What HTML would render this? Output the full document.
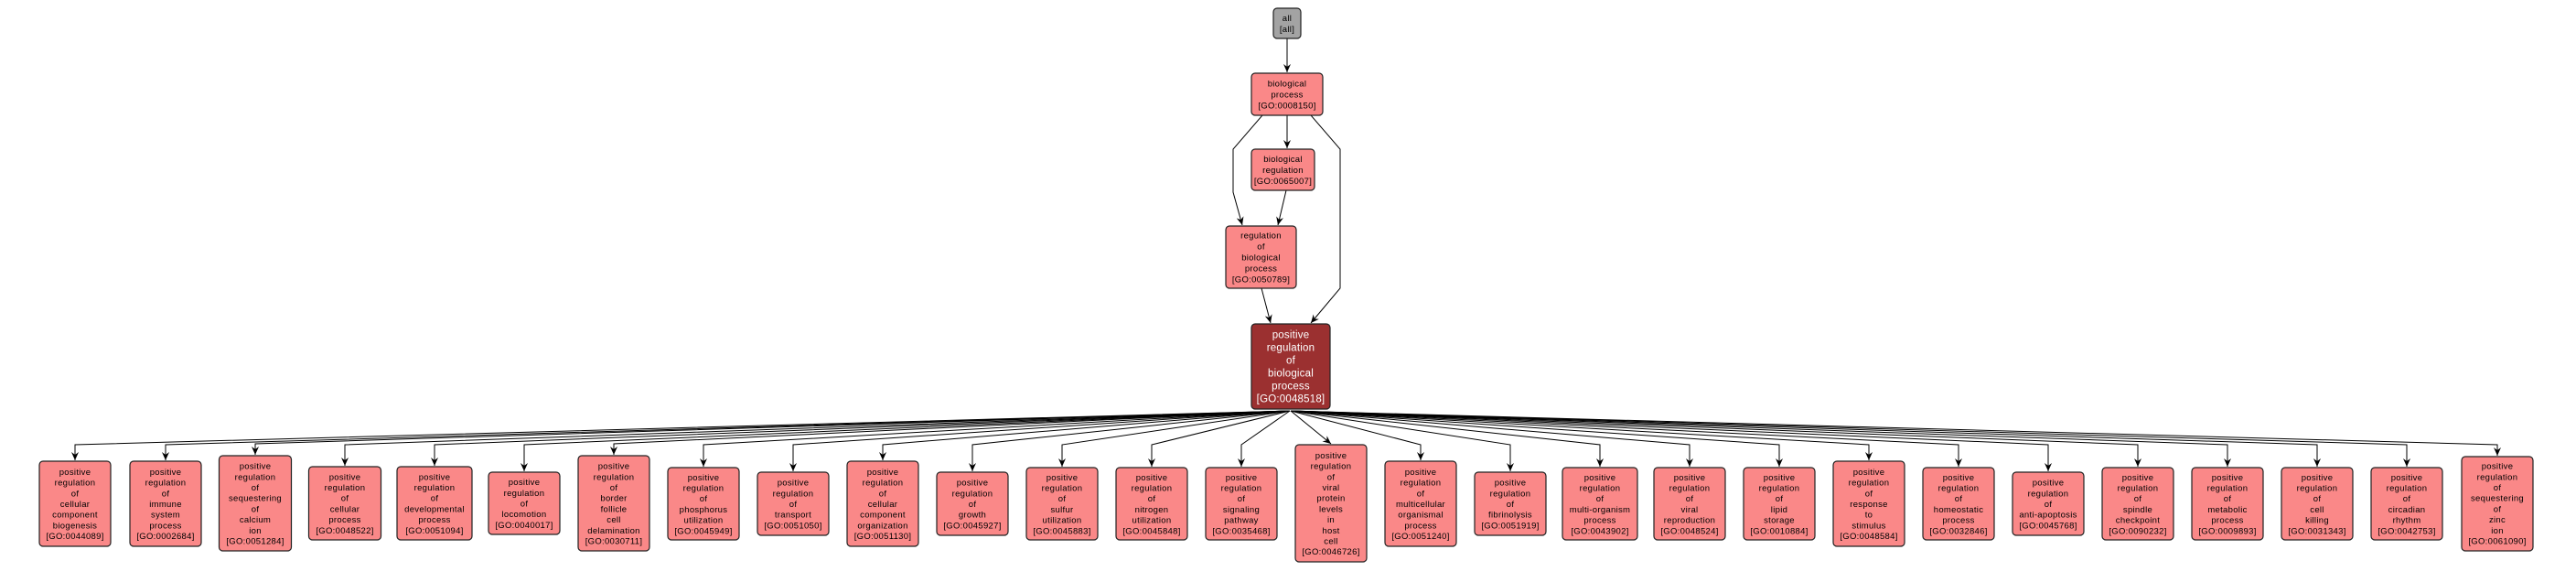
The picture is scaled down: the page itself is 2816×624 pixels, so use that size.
<!DOCTYPE html>
<html><head><meta charset="utf-8"><style>
html,body{margin:0;padding:0;background:#fff;}
svg{display:block;}
text{font-family:"Liberation Sans",sans-serif;font-size:9.5px;letter-spacing:0.3px;text-anchor:middle;fill:#000;}
.n rect{fill:#fa8888;stroke:#222;stroke-width:1.2;}
.d text{fill:#fff;font-size:11.5px;letter-spacing:0.2px;}
path{fill:none;stroke:#000;stroke-width:1;}
</style></head><body>
<svg width="2816" height="624" viewBox="0 0 2816 624" xmlns="http://www.w3.org/2000/svg">
<defs><marker id="a" markerWidth="10" markerHeight="10" refX="9" refY="5" orient="auto" markerUnits="userSpaceOnUse"><polygon points="0,1 9,5 0,9 3,5" fill="#000"/></marker></defs>

<!-- top edges -->
<path d="M1407,42 L1407,79" marker-end="url(#a)"/>
<path d="M1407,126 L1407,162" marker-end="url(#a)"/>
<path d="M1380,126 L1348,163 L1348,210 L1358,246" marker-end="url(#a)"/>
<path d="M1406,208 L1397,246" marker-end="url(#a)"/>
<path d="M1433,126 L1465,163 L1465,315 L1433,353" marker-end="url(#a)"/>
<path d="M1379,315 L1389,353" marker-end="url(#a)"/>

<!-- fan edges -->
<path d="M1410,449 L82,486 L82,503" marker-end="url(#a)"/>
<path d="M1410,449 L181,486 L181,503" marker-end="url(#a)"/>
<path d="M1410,449 L279,485 L279,497" marker-end="url(#a)"/>
<path d="M1410,449 L377,486 L377,509" marker-end="url(#a)"/>
<path d="M1410,449 L475,486 L475,509" marker-end="url(#a)"/>
<path d="M1410,449 L573,486 L573,515" marker-end="url(#a)"/>
<path d="M1410,449 L671,485 L671,497" marker-end="url(#a)"/>
<path d="M1410,449 L769,486 L769,510" marker-end="url(#a)"/>
<path d="M1410,449 L867,486 L867,515" marker-end="url(#a)"/>
<path d="M1410,449 L965,486 L965,503" marker-end="url(#a)"/>
<path d="M1410,449 L1063,486 L1063,515" marker-end="url(#a)"/>
<path d="M1410,449 L1161,486 L1161,510" marker-end="url(#a)"/>
<path d="M1410,449 L1259,486 L1259,510" marker-end="url(#a)"/>
<path d="M1410,449 L1357,486 L1357,510" marker-end="url(#a)"/>
<path d="M1411,449 L1455,485" marker-end="url(#a)"/>
<path d="M1411,449 L1553,486 L1553,503" marker-end="url(#a)"/>
<path d="M1411,449 L1651,486 L1651,515" marker-end="url(#a)"/>
<path d="M1411,449 L1749,486 L1749,510" marker-end="url(#a)"/>
<path d="M1411,449 L1847,486 L1847,510" marker-end="url(#a)"/>
<path d="M1411,449 L1945,486 L1945,510" marker-end="url(#a)"/>
<path d="M1411,449 L2043,486 L2043,503" marker-end="url(#a)"/>
<path d="M1411,449 L2141,486 L2141,510" marker-end="url(#a)"/>
<path d="M1411,449 L2239,486 L2239,515" marker-end="url(#a)"/>
<path d="M1411,449 L2337,486 L2337,510" marker-end="url(#a)"/>
<path d="M1411,449 L2435,486 L2435,510" marker-end="url(#a)"/>
<path d="M1411,449 L2533,486 L2533,510" marker-end="url(#a)"/>
<path d="M1411,449 L2631,486 L2631,510" marker-end="url(#a)"/>
<path d="M1411,449 L2730,486 L2730,498" marker-end="url(#a)"/>

<!-- top nodes -->
<g class="n"><rect x="1392" y="9" width="30" height="33" rx="4" style="fill:#a3a3a3"/><text x="1407" y="23"><tspan x="1407">all</tspan><tspan x="1407" dy="12">[all]</tspan></text></g>
<g class="n"><rect x="1368" y="80" width="78" height="46" rx="4"/><text y="94.5"><tspan x="1407">biological</tspan><tspan x="1407" dy="12">process</tspan><tspan x="1407" dy="12">[GO:0008150]</tspan></text></g>
<g class="n"><rect x="1368" y="163" width="69" height="45" rx="4"/><text y="177"><tspan x="1402.5">biological</tspan><tspan x="1402.5" dy="12">regulation</tspan><tspan x="1402.5" dy="12">[GO:0065007]</tspan></text></g>
<g class="n"><rect x="1340" y="247" width="77" height="68" rx="4"/><text y="260.5"><tspan x="1378.5">regulation</tspan><tspan x="1378.5" dy="12">of</tspan><tspan x="1378.5" dy="12">biological</tspan><tspan x="1378.5" dy="12">process</tspan><tspan x="1378.5" dy="12">[GO:0050789]</tspan></text></g>
<g class="n d"><rect x="1368" y="354" width="86" height="93" rx="4" style="fill:#9b3030"/><text y="369.5"><tspan x="1411">positive</tspan><tspan x="1411" dy="14">regulation</tspan><tspan x="1411" dy="14">of</tspan><tspan x="1411" dy="14">biological</tspan><tspan x="1411" dy="14">process</tspan><tspan x="1411" dy="14">[GO:0048518]</tspan></text></g>

<!-- bottom nodes -->
<g class="n"><rect x="43" y="504" width="78" height="93" rx="4"/><text y="518.9"><tspan x="82">positive</tspan><tspan x="82" dy="11.7">regulation</tspan><tspan x="82" dy="11.7">of</tspan><tspan x="82" dy="11.7">cellular</tspan><tspan x="82" dy="11.7">component</tspan><tspan x="82" dy="11.7">biogenesis</tspan><tspan x="82" dy="11.7">[GO:0044089]</tspan></text></g>
<g class="n"><rect x="142" y="504" width="78" height="93" rx="4"/><text y="518.9"><tspan x="181">positive</tspan><tspan x="181" dy="11.7">regulation</tspan><tspan x="181" dy="11.7">of</tspan><tspan x="181" dy="11.7">immune</tspan><tspan x="181" dy="11.7">system</tspan><tspan x="181" dy="11.7">process</tspan><tspan x="181" dy="11.7">[GO:0002684]</tspan></text></g>
<g class="n"><rect x="239.5" y="498" width="79" height="104" rx="4"/><text y="512.6"><tspan x="279">positive</tspan><tspan x="279" dy="11.7">regulation</tspan><tspan x="279" dy="11.7">of</tspan><tspan x="279" dy="11.7">sequestering</tspan><tspan x="279" dy="11.7">of</tspan><tspan x="279" dy="11.7">calcium</tspan><tspan x="279" dy="11.7">ion</tspan><tspan x="279" dy="11.7">[GO:0051284]</tspan></text></g>
<g class="n"><rect x="337.5" y="510" width="79" height="80" rx="4"/><text y="524.3"><tspan x="377">positive</tspan><tspan x="377" dy="11.7">regulation</tspan><tspan x="377" dy="11.7">of</tspan><tspan x="377" dy="11.7">cellular</tspan><tspan x="377" dy="11.7">process</tspan><tspan x="377" dy="11.7">[GO:0048522]</tspan></text></g>
<g class="n"><rect x="434" y="510" width="82" height="80" rx="4"/><text y="524.3"><tspan x="475">positive</tspan><tspan x="475" dy="11.7">regulation</tspan><tspan x="475" dy="11.7">of</tspan><tspan x="475" dy="11.7">developmental</tspan><tspan x="475" dy="11.7">process</tspan><tspan x="475" dy="11.7">[GO:0051094]</tspan></text></g>
<g class="n"><rect x="534" y="516" width="78" height="68" rx="4"/><text y="530.1"><tspan x="573">positive</tspan><tspan x="573" dy="11.7">regulation</tspan><tspan x="573" dy="11.7">of</tspan><tspan x="573" dy="11.7">locomotion</tspan><tspan x="573" dy="11.7">[GO:0040017]</tspan></text></g>
<g class="n"><rect x="632" y="498" width="78" height="104" rx="4"/><text y="512.6"><tspan x="671">positive</tspan><tspan x="671" dy="11.7">regulation</tspan><tspan x="671" dy="11.7">of</tspan><tspan x="671" dy="11.7">border</tspan><tspan x="671" dy="11.7">follicle</tspan><tspan x="671" dy="11.7">cell</tspan><tspan x="671" dy="11.7">delamination</tspan><tspan x="671" dy="11.7">[GO:0030711]</tspan></text></g>
<g class="n"><rect x="730" y="511" width="78" height="79" rx="4"/><text y="524.8"><tspan x="769">positive</tspan><tspan x="769" dy="11.7">regulation</tspan><tspan x="769" dy="11.7">of</tspan><tspan x="769" dy="11.7">phosphorus</tspan><tspan x="769" dy="11.7">utilization</tspan><tspan x="769" dy="11.7">[GO:0045949]</tspan></text></g>
<g class="n"><rect x="828" y="516" width="78" height="69" rx="4"/><text y="530.6"><tspan x="867">positive</tspan><tspan x="867" dy="11.7">regulation</tspan><tspan x="867" dy="11.7">of</tspan><tspan x="867" dy="11.7">transport</tspan><tspan x="867" dy="11.7">[GO:0051050]</tspan></text></g>
<g class="n"><rect x="926" y="504" width="78" height="93" rx="4"/><text y="518.9"><tspan x="965">positive</tspan><tspan x="965" dy="11.7">regulation</tspan><tspan x="965" dy="11.7">of</tspan><tspan x="965" dy="11.7">cellular</tspan><tspan x="965" dy="11.7">component</tspan><tspan x="965" dy="11.7">organization</tspan><tspan x="965" dy="11.7">[GO:0051130]</tspan></text></g>
<g class="n"><rect x="1024" y="516" width="78" height="69" rx="4"/><text y="530.6"><tspan x="1063">positive</tspan><tspan x="1063" dy="11.7">regulation</tspan><tspan x="1063" dy="11.7">of</tspan><tspan x="1063" dy="11.7">growth</tspan><tspan x="1063" dy="11.7">[GO:0045927]</tspan></text></g>
<g class="n"><rect x="1122" y="511" width="78" height="79" rx="4"/><text y="524.8"><tspan x="1161">positive</tspan><tspan x="1161" dy="11.7">regulation</tspan><tspan x="1161" dy="11.7">of</tspan><tspan x="1161" dy="11.7">sulfur</tspan><tspan x="1161" dy="11.7">utilization</tspan><tspan x="1161" dy="11.7">[GO:0045883]</tspan></text></g>
<g class="n"><rect x="1220" y="511" width="78" height="79" rx="4"/><text y="524.8"><tspan x="1259">positive</tspan><tspan x="1259" dy="11.7">regulation</tspan><tspan x="1259" dy="11.7">of</tspan><tspan x="1259" dy="11.7">nitrogen</tspan><tspan x="1259" dy="11.7">utilization</tspan><tspan x="1259" dy="11.7">[GO:0045848]</tspan></text></g>
<g class="n"><rect x="1318" y="511" width="78" height="79" rx="4"/><text y="524.8"><tspan x="1357">positive</tspan><tspan x="1357" dy="11.7">regulation</tspan><tspan x="1357" dy="11.7">of</tspan><tspan x="1357" dy="11.7">signaling</tspan><tspan x="1357" dy="11.7">pathway</tspan><tspan x="1357" dy="11.7">[GO:0035468]</tspan></text></g>
<g class="n"><rect x="1416" y="486" width="78" height="128" rx="4"/><text y="500.9"><tspan x="1455">positive</tspan><tspan x="1455" dy="11.7">regulation</tspan><tspan x="1455" dy="11.7">of</tspan><tspan x="1455" dy="11.7">viral</tspan><tspan x="1455" dy="11.7">protein</tspan><tspan x="1455" dy="11.7">levels</tspan><tspan x="1455" dy="11.7">in</tspan><tspan x="1455" dy="11.7">host</tspan><tspan x="1455" dy="11.7">cell</tspan><tspan x="1455" dy="11.7">[GO:0046726]</tspan></text></g>
<g class="n"><rect x="1514" y="504" width="78" height="93" rx="4"/><text y="518.9"><tspan x="1553">positive</tspan><tspan x="1553" dy="11.7">regulation</tspan><tspan x="1553" dy="11.7">of</tspan><tspan x="1553" dy="11.7">multicellular</tspan><tspan x="1553" dy="11.7">organismal</tspan><tspan x="1553" dy="11.7">process</tspan><tspan x="1553" dy="11.7">[GO:0051240]</tspan></text></g>
<g class="n"><rect x="1612" y="516" width="78" height="69" rx="4"/><text y="530.6"><tspan x="1651">positive</tspan><tspan x="1651" dy="11.7">regulation</tspan><tspan x="1651" dy="11.7">of</tspan><tspan x="1651" dy="11.7">fibrinolysis</tspan><tspan x="1651" dy="11.7">[GO:0051919]</tspan></text></g>
<g class="n"><rect x="1708" y="511" width="82" height="79" rx="4"/><text y="524.8"><tspan x="1749">positive</tspan><tspan x="1749" dy="11.7">regulation</tspan><tspan x="1749" dy="11.7">of</tspan><tspan x="1749" dy="11.7">multi-organism</tspan><tspan x="1749" dy="11.7">process</tspan><tspan x="1749" dy="11.7">[GO:0043902]</tspan></text></g>
<g class="n"><rect x="1808" y="511" width="78" height="79" rx="4"/><text y="524.8"><tspan x="1847">positive</tspan><tspan x="1847" dy="11.7">regulation</tspan><tspan x="1847" dy="11.7">of</tspan><tspan x="1847" dy="11.7">viral</tspan><tspan x="1847" dy="11.7">reproduction</tspan><tspan x="1847" dy="11.7">[GO:0048524]</tspan></text></g>
<g class="n"><rect x="1906" y="511" width="78" height="79" rx="4"/><text y="524.8"><tspan x="1945">positive</tspan><tspan x="1945" dy="11.7">regulation</tspan><tspan x="1945" dy="11.7">of</tspan><tspan x="1945" dy="11.7">lipid</tspan><tspan x="1945" dy="11.7">storage</tspan><tspan x="1945" dy="11.7">[GO:0010884]</tspan></text></g>
<g class="n"><rect x="2004" y="504" width="78" height="93" rx="4"/><text y="518.9"><tspan x="2043">positive</tspan><tspan x="2043" dy="11.7">regulation</tspan><tspan x="2043" dy="11.7">of</tspan><tspan x="2043" dy="11.7">response</tspan><tspan x="2043" dy="11.7">to</tspan><tspan x="2043" dy="11.7">stimulus</tspan><tspan x="2043" dy="11.7">[GO:0048584]</tspan></text></g>
<g class="n"><rect x="2102" y="511" width="78" height="79" rx="4"/><text y="524.8"><tspan x="2141">positive</tspan><tspan x="2141" dy="11.7">regulation</tspan><tspan x="2141" dy="11.7">of</tspan><tspan x="2141" dy="11.7">homeostatic</tspan><tspan x="2141" dy="11.7">process</tspan><tspan x="2141" dy="11.7">[GO:0032846]</tspan></text></g>
<g class="n"><rect x="2200" y="516" width="78" height="69" rx="4"/><text y="530.6"><tspan x="2239">positive</tspan><tspan x="2239" dy="11.7">regulation</tspan><tspan x="2239" dy="11.7">of</tspan><tspan x="2239" dy="11.7">anti-apoptosis</tspan><tspan x="2239" dy="11.7">[GO:0045768]</tspan></text></g>
<g class="n"><rect x="2298" y="511" width="78" height="79" rx="4"/><text y="524.8"><tspan x="2337">positive</tspan><tspan x="2337" dy="11.7">regulation</tspan><tspan x="2337" dy="11.7">of</tspan><tspan x="2337" dy="11.7">spindle</tspan><tspan x="2337" dy="11.7">checkpoint</tspan><tspan x="2337" dy="11.7">[GO:0090232]</tspan></text></g>
<g class="n"><rect x="2396" y="511" width="78" height="79" rx="4"/><text y="524.8"><tspan x="2435">positive</tspan><tspan x="2435" dy="11.7">regulation</tspan><tspan x="2435" dy="11.7">of</tspan><tspan x="2435" dy="11.7">metabolic</tspan><tspan x="2435" dy="11.7">process</tspan><tspan x="2435" dy="11.7">[GO:0009893]</tspan></text></g>
<g class="n"><rect x="2494" y="511" width="78" height="79" rx="4"/><text y="524.8"><tspan x="2533">positive</tspan><tspan x="2533" dy="11.7">regulation</tspan><tspan x="2533" dy="11.7">of</tspan><tspan x="2533" dy="11.7">cell</tspan><tspan x="2533" dy="11.7">killing</tspan><tspan x="2533" dy="11.7">[GO:0031343]</tspan></text></g>
<g class="n"><rect x="2592" y="511" width="78" height="79" rx="4"/><text y="524.8"><tspan x="2631">positive</tspan><tspan x="2631" dy="11.7">regulation</tspan><tspan x="2631" dy="11.7">of</tspan><tspan x="2631" dy="11.7">circadian</tspan><tspan x="2631" dy="11.7">rhythm</tspan><tspan x="2631" dy="11.7">[GO:0042753]</tspan></text></g>
<g class="n"><rect x="2691" y="499" width="78" height="103" rx="4"/><text y="512.6"><tspan x="2730">positive</tspan><tspan x="2730" dy="11.7">regulation</tspan><tspan x="2730" dy="11.7">of</tspan><tspan x="2730" dy="11.7">sequestering</tspan><tspan x="2730" dy="11.7">of</tspan><tspan x="2730" dy="11.7">zinc</tspan><tspan x="2730" dy="11.7">ion</tspan><tspan x="2730" dy="11.7">[GO:0061090]</tspan></text></g>
</svg>
</body></html>
